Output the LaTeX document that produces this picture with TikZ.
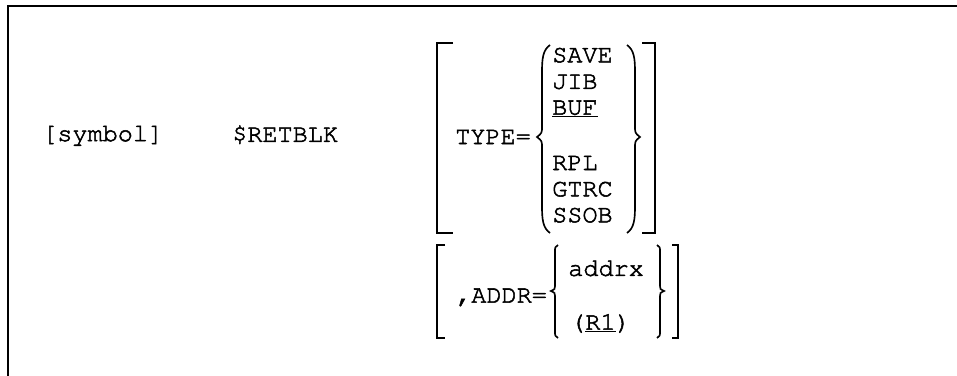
\documentclass[tikz,border=0pt]{standalone}
\usepackage[T1]{fontenc}
\usetikzlibrary{positioning}
\definecolor{ink}{HTML}{000000}
\newcommand{\heavy}[1]{\special{pdf:literal 2 Tr 0.45 w}#1\special{pdf:literal 0 Tr}}

\begin{document}
\begin{tikzpicture}[
  x=0.03cm, y=-0.03cm,
  code/.style={font=\fontfamily{pcr}\fontsize{21.5}{21.5}\selectfont, text=ink, anchor=west, inner sep=0pt},
  rule/.style={ink, line width=1.5pt},
  curly/.style={ink, line width=1.4pt},
]
\useasboundingbox (0,0) rectangle (957,376);

% Frame (open at right and bottom)
\draw[ink, line width=1.8pt] (8,376) -- (8,6) -- (957,6);

% Label and macro name
\node[code] (sym) at (42,135) {\heavy{[symbol]}};
\node[code] (macro) at (232,135) {\heavy{\$RETBLK}};

% =============================================
% TYPE= operand
% =============================================
\node[code] (typekw) at (455,137) {\heavy{TYPE=}};
\node[code] (optsave) at (552,55) {\heavy{SAVE}};
\node[code] (optjib)  at (552,82) {\heavy{JIB}};
\node[code] (optbuf)  at (552,109) {\underline{\heavy{BUF}}};
\node[code] (optrpl)  at (552,163) {\heavy{RPL}};
\node[code] (optgtrc) at (552,189) {\heavy{GTRC}};
\node[code] (optssob) at (552,215) {\heavy{SSOB}};

% outer brackets
\draw[rule] (453,43) -- (437,43) -- (437,233) -- (453,233);
\draw[rule] (642,43) -- (655,43) -- (655,233) -- (642,233);

% braces
\draw[curly] (550,45) .. controls (543,50) and (542,58) .. (542,72) -- (542,126)
  .. controls (542,133) .. (537,137) .. controls (542,141) .. (542,148)
  -- (542,206) .. controls (542,220) and (543,228) .. (550,233);
\draw[curly] (627,45) .. controls (634,50) and (635,58) .. (635,72) -- (635,126)
  .. controls (635,133) .. (640,137) .. controls (635,141) .. (635,148)
  -- (635,206) .. controls (635,220) and (634,228) .. (627,233);

% =============================================
% ,ADDR= operand
% =============================================
\node[code] (addrkw) at (456,297) {\heavy{,ADDR=}};
\node[code] (optaddrx) at (568,268) {\heavy{addrx}};
\node[code] (optreg) at (570,323) {\heavy{(}\underline{\heavy{R1}}\heavy{)}};

% outer brackets
\draw[rule] (445,245) -- (437,245) -- (437,338) -- (445,338);
\draw[rule] (672,245) -- (678,245) -- (678,338) -- (672,338);

% braces
\draw[curly] (558,245) .. controls (555,247) .. (555,252) -- (555,286)
  .. controls (555,289) .. (551,291) .. controls (555,293) .. (555,296)
  -- (555,331) .. controls (555,336) .. (558,338);
\draw[curly] (657,245) .. controls (660,247) .. (660,252) -- (660,286)
  .. controls (660,289) .. (664,291) .. controls (660,293) .. (660,296)
  -- (660,331) .. controls (660,336) .. (657,338);

\end{tikzpicture}
\end{document}
